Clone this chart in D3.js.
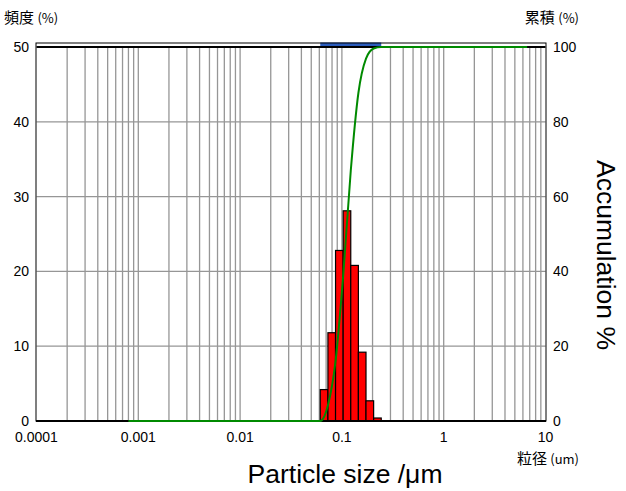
<!DOCTYPE html>
<html>
<head>
<meta charset="utf-8">
<script src="https://cdn.jsdelivr.net/npm/d3@7/dist/d3.min.js"></script>
<style>
  body { margin: 0; background: #fff; }
  text { font-family: "Liberation Sans", Arial, sans-serif; }
  .jp { font-family: "Noto Sans CJK JP", sans-serif; }
</style>
</head>
<body>
<div id="chart"></div>
<script>
// bin edges (um) and frequency per bin (%)
const binEdges = [0.0613, 0.0729, 0.0866, 0.1029, 0.1222, 0.1452, 0.1725, 0.2050, 0.2435];
const freq = [4.2, 11.8, 22.8, 28.1, 20.8, 9.2, 2.7, 0.4];

// cumulative curve points (size um, %)
const cumSize = [0.0008, 0.0613, 0.0729, 0.0866, 0.1029, 0.1222, 0.1452, 0.1725, 0.2050, 0.2435, 6.6];
const cumVal  = [0, 0, 4.2, 16.0, 38.8, 66.9, 87.7, 96.9, 99.6, 100, 100];

const xTicks = [0.0001, 0.001, 0.01, 0.1, 1, 10];
const xTickLabels = ["0.0001", "0.001", "0.01", "0.1", "1", "10"];
const yTicks = [0, 10, 20, 30, 40, 50];
const yRTicks = [0, 20, 40, 60, 80, 100];

const W = 626, H = 491;
const L = 36.5, R = 545.5, T = 43, Y50 = 47, B = 421;

const svg = d3.select("#chart").append("svg").attr("width", W).attr("height", H);

const x = d3.scaleLog().domain([0.0001, 10]).range([L, R]);
const y = d3.scaleLinear().domain([0, 50]).range([B, Y50]);
const yR = d3.scaleLinear().domain([0, 100]).range([B, Y50]);

// vertical grid (log minors + decades)
const gridX = [];
for (let e = -4; e < 1; e++) for (let m = 1; m < 10; m++) gridX.push(m * Math.pow(10, e));
svg.append("g").selectAll("line").data(gridX.filter(d => d > 0.0001 && d < 10)).enter().append("line")
    .attr("x1", d => x(d)).attr("x2", d => x(d))
    .attr("y1", Y50).attr("y2", B)
    .attr("stroke", "#969696").attr("stroke-width", 1.3);

// horizontal grid
svg.append("g").selectAll("line").data(yTicks.filter(d => d > 0 && d < 50)).enter().append("line")
    .attr("x1", L).attr("x2", R)
    .attr("y1", d => y(d)).attr("y2", d => y(d))
    .attr("stroke", "#969696").attr("stroke-width", 1.3);

// blue range band at the top
svg.append("rect")
    .attr("x", x(binEdges[0])).attr("y", T - 0.5)
    .attr("width", x(binEdges[binEdges.length - 1]) - x(binEdges[0]))
    .attr("height", Y50 - T + 0.5)
    .attr("fill", "#2b5cbc");

// bars
svg.append("g").selectAll("rect").data(freq).enter().append("rect")
    .attr("x", (d, i) => x(binEdges[i]))
    .attr("width", (d, i) => x(binEdges[i + 1]) - x(binEdges[i]))
    .attr("y", d => y(d))
    .attr("height", d => B - y(d))
    .attr("fill", "#ff0000").attr("stroke", "#000").attr("stroke-width", 1.2);

// frame
svg.append("rect").attr("x", L - 0.5).attr("y", T).attr("width", R - L + 1).attr("height", B - T)
    .attr("fill", "none").attr("stroke", "#000").attr("stroke-width", 1);
svg.append("line").attr("x1", L).attr("x2", R).attr("y1", Y50).attr("y2", Y50)
    .attr("stroke", "#000").attr("stroke-width", 2);
svg.append("line").attr("x1", L - 0.5).attr("x2", R + 0.5).attr("y1", B).attr("y2", B)
    .attr("stroke", "#000").attr("stroke-width", 2);

// cumulative curve
const cum = cumSize.map((s, i) => [s, cumVal[i]]);
svg.append("path").datum(cum)
    .attr("d", d3.line().x(d => x(d[0])).y(d => yR(d[1])).curve(d3.curveMonotoneX))
    .attr("fill", "none").attr("stroke", "#008a00").attr("stroke-width", 2);

// left tick labels
svg.append("g").selectAll("text").data(yTicks).enter().append("text")
    .attr("x", 29).attr("y", d => y(d)).attr("dy", "0.35em")
    .attr("text-anchor", "end").attr("font-size", 14).text(d => d);

// right tick labels
svg.append("g").selectAll("text").data(yRTicks).enter().append("text")
    .attr("x", 553).attr("y", d => yR(d)).attr("dy", "0.35em")
    .attr("text-anchor", "start").attr("font-size", 14).text(d => d);

// bottom tick labels
svg.append("g").selectAll("text").data(xTicks).enter().append("text")
    .attr("x", d => x(d)).attr("y", 442)
    .attr("text-anchor", "middle").attr("font-size", 14).text((d, i) => xTickLabels[i]);

// small japanese labels
function jpLabel(px, py, anchor, main, unit) {
    const t = svg.append("text").attr("class", "jp").attr("x", px).attr("y", py)
        .attr("font-size", 15).attr("text-anchor", anchor);
    t.append("tspan").text(main + " ");
    t.append("tspan").attr("font-size", 13).text(unit);
}
jpLabel(4, 23, "start", "頻度", "(%)");
jpLabel(579, 23, "end", "累積", "(%)");
jpLabel(579, 464, "end", "粒径", "(um)");

// axis titles
svg.append("text").attr("x", 345).attr("y", 483).attr("text-anchor", "middle")
    .attr("font-size", 26.5).text("Particle size /μm");
svg.append("text").attr("transform", "translate(597,255) rotate(90)")
    .attr("text-anchor", "middle").attr("font-size", 26.5).text("Accumulation %");
</script>
</body>
</html>
